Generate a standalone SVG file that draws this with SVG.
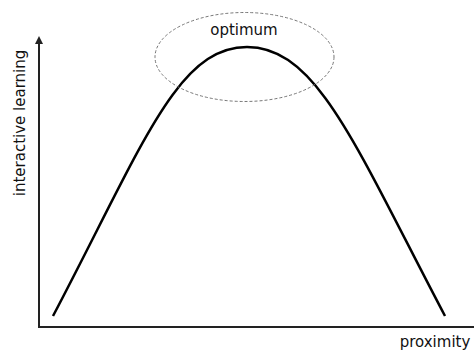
<svg xmlns="http://www.w3.org/2000/svg" width="474" height="356" viewBox="0 0 474 356">
<style>
.lbl{font-family:"DejaVu Sans",Verdana,sans-serif;font-size:15px;fill:#111}
.axis{stroke:#222;stroke-width:2;fill:none}
.curve{stroke:#000;stroke-width:2.5;fill:none}
.opt{stroke:#777;stroke-width:1;stroke-dasharray:3 2;fill:none}
</style>
<defs>
<marker id="arr" viewBox="0 0 8 10" refX="4" refY="1" markerWidth="4" markerHeight="5" orient="auto-start-reverse" markerUnits="userSpaceOnUse">
<path d="M0,10 L4,0 L8,10 Z" fill="#222"/>
</marker>
</defs>
<g id="connectors">
<line class="axis" x1="39" y1="327" x2="39" y2="40"/>
<path d="M35,44 L39,36 L43,44 Z" fill="#222"/>
<line class="axis" x1="38" y1="327" x2="474" y2="327"/>
<path class="curve" d="M53,316 C143,145 177,47 247,47 C317,47 355,145 445,316"/>
</g>
<g id="optimum">
<ellipse class="opt" cx="244.5" cy="57" rx="89.5" ry="44.5"/>
<text class="lbl" x="244" y="35" text-anchor="middle">optimum</text>
</g>
<g id="y-label">
<text class="lbl" transform="translate(25,123) rotate(-90)" text-anchor="middle">interactive learning</text>
</g>
<g id="x-label">
<text class="lbl" x="435" y="347" text-anchor="middle">proximity</text>
</g>
</svg>
